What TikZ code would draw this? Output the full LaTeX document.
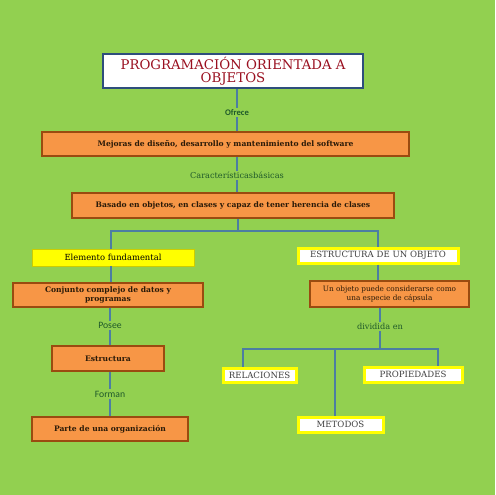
\documentclass[tikz,border=0pt]{standalone}
\usepackage{fontspec}
\setmainfont{DejaVu Serif}
\newfontfamily\lblfont{Carlito}
\definecolor{bg}{HTML}{92D050}
\definecolor{orf}{HTML}{F79646}
\definecolor{orb}{HTML}{9A4B10}
\definecolor{ln}{HTML}{4C7EA2}
\definecolor{tb}{HTML}{2E4E7C}
\definecolor{tred}{HTML}{9A1020}
\definecolor{lg}{HTML}{1F5A2A}
\definecolor{ylw}{HTML}{FFFF00}
\definecolor{txt}{HTML}{2A1A08}
\tikzset{
  obox/.style={draw=orb, line width=1.3pt, fill=orf, inner sep=0pt, align=center, text=txt, font=\fontsize{7.6}{9}\selectfont\bfseries},
  ybox/.style={draw=ylw, line width=3pt, fill=white, inner sep=0pt, align=center, text=black!75, font=\fontsize{8.6}{9.5}\selectfont},
  yfull/.style={draw=ylw!80!black, line width=0.5pt, fill=ylw, inner sep=0pt, align=center, text=black, font=\fontsize{8.4}{9.5}\selectfont},
  conn/.style={draw=ln, line width=2.8pt},
  lbls/.style={fill=bg, inner sep=1.5pt, text=lg, font=\lblfont\fontsize{9.7}{11}\selectfont},
  lblr/.style={fill=bg, inner sep=1.5pt, text=lg, font=\fontsize{8.2}{9}\selectfont},
}
\begin{document}
\begin{tikzpicture}[x=1pt,y=-1pt]
\fill[bg] (0,0) rectangle (495,495);
\useasboundingbox (0,0) rectangle (495,495);
% title
\node[draw=tb, line width=2.8pt, fill=white, minimum width=260pt, minimum height=34pt, inner sep=0pt, align=center, text=tred, font=\fontsize{13.3}{13.5}\selectfont] (title) at (233,71) {PROGRAMACIÓN ORIENTADA A\\OBJETOS};
\node[obox, minimum width=367pt, minimum height=24pt] (b1) at (225.5,144) {Mejoras de diseño, desarrollo y mantenimiento del software};
\node[obox, minimum width=322pt, minimum height=25pt] (b2) at (233,205.5) {Basado en objetos, en clases y capaz de tener herencia de clases};
% left column
\node[yfull, minimum width=162pt, minimum height=17pt] (elem) at (113,257.5) {Elemento fundamental};
\node[obox, minimum width=190pt, minimum height=24pt] (conj) at (108,295) {Conjunto complejo de datos y\\programas};
\node[obox, minimum width=112pt, minimum height=25pt] (estr) at (108,358.5) {Estructura};
\node[obox, minimum width=156pt, minimum height=24pt] (parte) at (110,429) {Parte de una organización};
% right column
\node[ybox, minimum width=160pt, minimum height=15pt] (eobj) at (378,255.5) {ESTRUCTURA DE UN OBJETO};
\node[obox, minimum width=159pt, minimum height=26pt, font=\fontsize{7.3}{8.6}\selectfont] (obj) at (389.5,294) {Un objeto puede considerarse como\\una especie de cápsula};
\node[ybox, minimum width=73pt, minimum height=14pt] (rel) at (259.5,375) {RELACIONES};
\node[ybox, minimum width=85pt, minimum height=15pt] (met) at (340.5,424.5) {METODOS};
\node[ybox, minimum width=98pt, minimum height=15pt] (prop) at (413,374.5) {PROPIEDADES};
% helper coordinates
\coordinate (xt) at (237,0);
\coordinate (xa) at (111,0);
\coordinate (xb) at (110,0);
\coordinate (xr) at (243,0);
\coordinate (xm) at (335,0);
\coordinate (xp) at (438,0);
\coordinate (j1) at (238,231);
\coordinate (j2) at (380,349);
% connectors
\draw[conn] (title.south -| xt) -- (b1.north -| xt) node[lbls, pos=0.55, font=\lblfont\bfseries\fontsize{8.6}{10}\selectfont] {Ofrece};
\draw[conn] (b1.south -| xt) -- (b2.north -| xt) node[lblr, pos=0.53] {Característicasbásicas};
\draw[conn] (b2.south -| j1) -- (j1);
\draw[conn] (elem.north -| xa) |- (j1) -| (eobj.north);
\draw[conn] (elem.south -| xa) -- (conj.north -| xa);
\draw[conn] (conj.south -| xb) -- (estr.north -| xb) node[lbls, pos=0.48] {Posee};
\draw[conn] (estr.south -| xb) -- (parte.north -| xb) node[lbls, pos=0.5] {Forman};
\draw[conn] (eobj.south) -- (obj.north -| eobj.south);
\draw[conn] (obj.south -| j2) -- (j2) node[lblr, pos=0.45] {dividida en};
\draw[conn] (rel.north -| xr) |- (j2) -| (prop.north -| xp);
\draw[conn] (met.north -| xm) -- (j2 -| xm);
\end{tikzpicture}
\end{document}
